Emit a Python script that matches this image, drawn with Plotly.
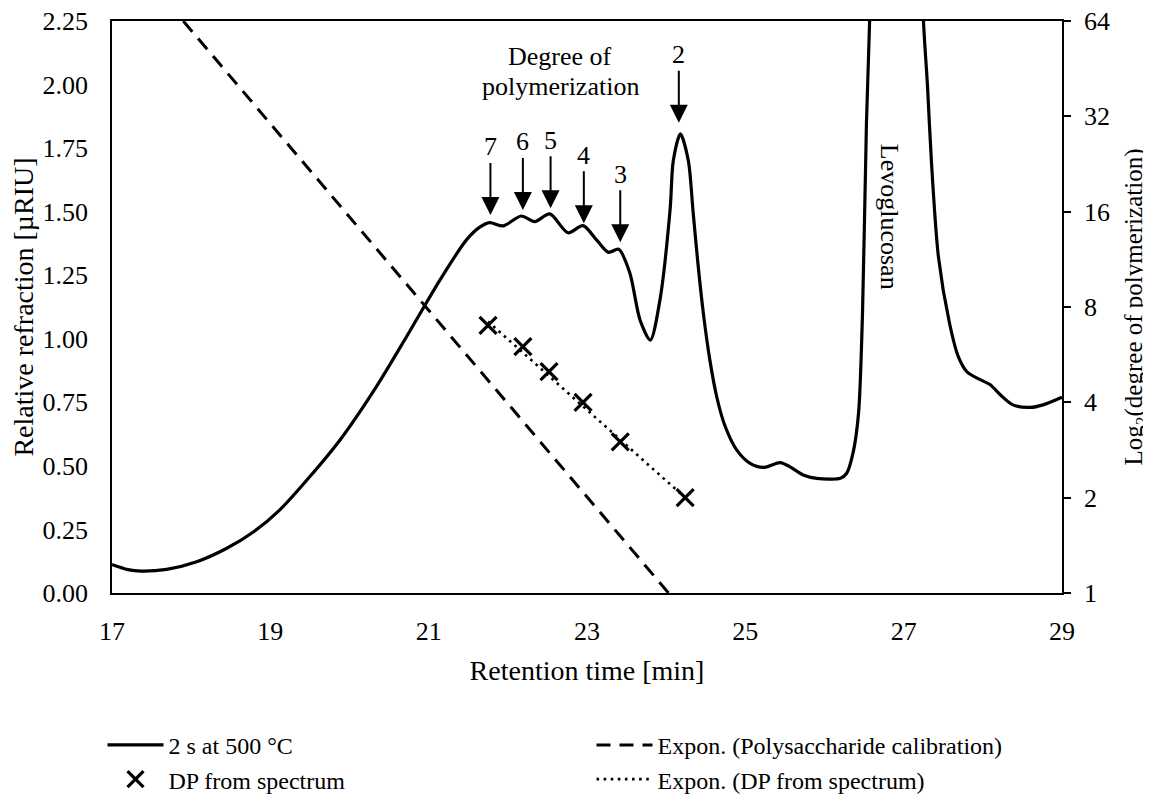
import plotly.graph_objects as go

# ---------------- data ----------------
# RI chromatogram "2 s at 500 °C" (retention time [min], relative refraction [µRIU])
rt = [17.00, 17.20, 17.37, 17.69, 18.07, 18.45, 18.79, 19.12, 19.50, 19.88,
      20.34, 20.72, 21.14, 21.48, 21.65, 21.77, 21.94, 22.17, 22.34, 22.53,
      22.76, 22.95, 23.12, 23.27, 23.40, 23.54, 23.67, 23.80, 23.92, 24.05,
      24.09, 24.18, 24.28, 24.34, 24.40, 24.47, 24.55, 24.64, 24.74, 24.89,
      25.06, 25.23, 25.44, 25.56, 25.73, 25.90, 26.20, 26.28, 26.36, 26.43,
      26.48, 26.53, 26.57, 26.75, 26.92, 27.08, 27.25, 27.30, 27.35, 27.44,
      27.58, 27.69, 27.80, 27.96, 28.09, 28.22, 28.38, 28.60, 28.76, 29.00]
ri = [0.112, 0.092, 0.086, 0.093, 0.123, 0.176, 0.241, 0.327, 0.458, 0.602,
      0.812, 1.008, 1.230, 1.390, 1.440, 1.457, 1.444, 1.483, 1.461, 1.491,
      1.417, 1.445, 1.389, 1.340, 1.352, 1.260, 1.074, 0.995, 1.150, 1.510,
      1.700, 1.806, 1.700, 1.500, 1.300, 1.100, 0.920, 0.770, 0.660, 0.563,
      0.510, 0.494, 0.513, 0.497, 0.464, 0.451, 0.451, 0.471, 0.550, 0.707,
      1.100, 1.850, 2.250, 3.800, 4.500, 3.800, 2.250, 2.000, 1.700, 1.320,
      1.060, 0.930, 0.870, 0.840, 0.820, 0.780, 0.740, 0.730, 0.740, 0.770]

# Polysaccharide calibration trendline (exponential -> straight on log axis)
calib_t = [17.90, 24.03]
calib_dp = [64, 1]

# Degree of polymerization
dp_t = [21.75, 22.19, 22.52, 22.95, 23.42, 24.24]
dp_val = [7, 6, 5, 4, 3, 2]

# Exponential trendline through DP points
dpfit_t = [21.75, 24.24]
dpfit_dp = [7.2, 2.0]

# Arrow annotations (peak labels)
arrow_labels = ["7", "6", "5", "4", "3", "2"]
arrow_t = [21.78, 22.19, 22.54, 22.96, 23.42, 24.16]
arrow_tip = [1.487, 1.507, 1.513, 1.454, 1.380, 1.850]

x_ticks = [17, 19, 21, 23, 25, 27, 29]
y_ticks = [0, 0.25, 0.5, 0.75, 1.0, 1.25, 1.5, 1.75, 2.0, 2.25]
y2_ticks = [1, 2, 4, 8, 16, 32, 64]

FONT = "Liberation Serif, Times New Roman, serif"
TICK = 26
TITLE = 28

fig = go.Figure()

fig.add_trace(go.Scatter(
    x=rt, y=ri, mode="lines", name="2 s at 500 °C",
    line=dict(color="black", width=3.2, shape="spline", smoothing=0.8),
    yaxis="y"))

fig.add_trace(go.Scatter(
    x=calib_t, y=calib_dp, mode="lines", name="Expon. (Polysaccharide calibration)",
    line=dict(color="black", width=3, dash="14px,9px"),
    yaxis="y2"))

fig.add_trace(go.Scatter(
    x=dp_t, y=dp_val, mode="markers", name="DP from spectrum",
    marker=dict(symbol="x-thin", size=17, line=dict(color="black", width=3.2),
                color="black"),
    yaxis="y2"))

fig.add_trace(go.Scatter(
    x=dpfit_t, y=dpfit_dp, mode="lines", name="Expon. (DP from spectrum)",
    line=dict(color="black", width=2.6, dash="2.6px,4.5px"),
    yaxis="y2"))

annotations = []
for lab, t, tip in zip(arrow_labels, arrow_t, arrow_tip):
    annotations.append(dict(
        x=t, y=tip, xref="x", yref="y", text=lab, showarrow=True,
        ax=0, ay=-68, arrowhead=2, arrowsize=1.8, arrowwidth=2,
        arrowcolor="black", font=dict(family=FONT, size=TICK, color="black")))

annotations.append(dict(
    x=22.66, y=2.109, xref="x", yref="y", text="Degree of",
    showarrow=False, font=dict(family=FONT, size=TICK, color="black")))
annotations.append(dict(
    x=22.66, y=1.994, xref="x", yref="y", text="polymerization",
    showarrow=False, font=dict(family=FONT, size=TICK, color="black")))
annotations.append(dict(
    x=26.83, y=1.479, xref="x", yref="y", text="Levoglucosan",
    textangle=90, showarrow=False, font=dict(family=FONT, size=TICK, color="black")))

fig.update_layout(
    width=1143, height=791,
    paper_bgcolor="white", plot_bgcolor="white",
    margin=dict(l=104, r=89, t=13, b=206, autoexpand=False),
    font=dict(family=FONT, size=TICK, color="black"),
    showlegend=True,
    legend=dict(orientation="h", x=-0.01, y=-0.227, xanchor="left", yanchor="top",
                entrywidth=418, entrywidthmode="pixels", itemwidth=56,
                font=dict(family=FONT, size=24, color="black"),
                traceorder="normal"),
    annotations=annotations,
    xaxis=dict(range=[17, 29], tickvals=x_ticks, showgrid=False, zeroline=False,
               showline=True, linecolor="black", linewidth=1.5, mirror=True,
               automargin=False, ticks="", ticklabelstandoff=14,
               tickfont=dict(family=FONT, size=TICK),
               title=dict(text="Retention time [min]", standoff=15,
                          font=dict(family=FONT, size=TITLE))),
    yaxis=dict(range=[0, 2.25], tickvals=y_ticks, tickformat=".2f", showgrid=False,
               zeroline=False, showline=True, linecolor="black", linewidth=1.5,
               automargin=False, ticks="", ticklabelstandoff=17,
               ticklabeloverflow="allow",
               tickfont=dict(family=FONT, size=TICK),
               title=dict(text="Relative refraction [µRIU]", standoff=3,
                          font=dict(family=FONT, size=TITLE))),
    yaxis2=dict(type="log", range=[0, 1.80618], tickvals=y2_ticks,
                ticktext=[str(v) for v in y2_ticks], overlaying="y", side="right",
                showgrid=False, zeroline=False, showline=True, linecolor="black",
                linewidth=1.5, automargin=False, ticks="outside", ticklen=7,
                tickwidth=1.5, tickcolor="black", ticklabelstandoff=8,
                ticklabeloverflow="allow",
                tickfont=dict(family=FONT, size=TICK),
                title=dict(text="Log<sub>2</sub>(degree of polymerization)", standoff=20,
                           font=dict(family=FONT, size=25))),
)

fig.write_html("out.html")
